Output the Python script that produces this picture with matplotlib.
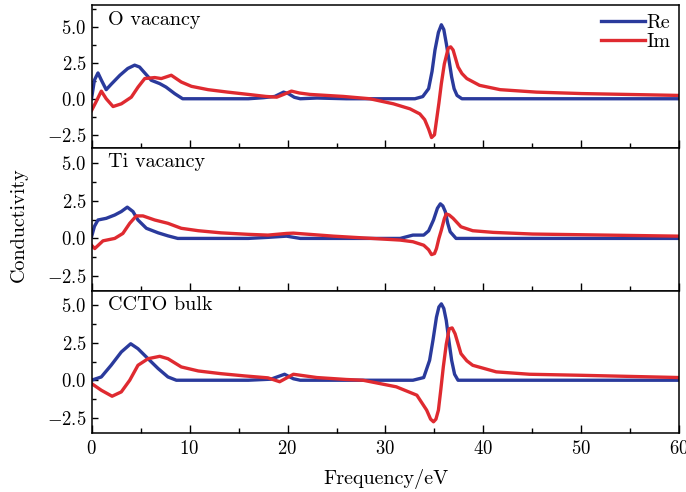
import numpy as np
import matplotlib
matplotlib.use('Agg')
import matplotlib.pyplot as plt
from matplotlib.ticker import MultipleLocator, FuncFormatter

plt.rcParams['font.family'] = 'cmr10'
plt.rcParams['mathtext.fontset'] = 'cm'
plt.rcParams['axes.formatter.use_mathtext'] = True

# ---- data (eV, conductivity) ----
# O vacancy
o_re_x = [0, 0.3, 0.66, 1.0, 1.5, 2.0, 2.9, 3.7, 4.4, 4.9, 5.25, 6.1, 6.96, 7.6, 8.5, 9.3, 12, 16, 17.5, 18.7,
          19.6, 20.1, 20.7, 21.3, 23, 26, 30, 33.0, 33.8, 34.4, 34.75, 35.05, 35.4, 35.7, 35.95, 36.2, 36.5,
          36.75, 37.0, 37.3, 37.8, 45, 60]
o_re_y = [0.0, 1.3, 1.79, 1.3, 0.63, 1.0, 1.63, 2.1, 2.33, 2.2, 1.93, 1.28, 1.05, 0.81, 0.35, 0.0, 0.0, 0.0, 0.07, 0.16,
          0.46, 0.35, 0.1, 0.0, 0.05, 0.0, 0.0, 0.0, 0.15, 0.7, 1.9, 3.38, 4.6, 5.13, 4.8, 3.85, 2.6,
          1.51, 0.7, 0.23, 0.0, 0.0, 0.0]
o_im_x = [0, 0.4, 1.0, 1.5, 2.2, 3.05, 4.06, 4.75, 5.43, 6.45, 7.12, 8.14, 9.16, 10.2, 11.9, 13.9, 16, 17.8,
          18.9, 19.6, 20.4, 21.2, 22.3, 25.7, 28.4, 30.8, 32.5, 33.5, 34.0, 34.4, 34.7, 35.0, 35.2, 35.45, 35.7,
          36.0, 36.4, 36.65, 36.9, 37.4, 37.8, 38.3, 39.6, 41.7, 45.4, 50, 60]
o_im_y = [-0.82, -0.3, 0.53, 0.0, -0.54, -0.35, 0.11, 0.81, 1.4, 1.47, 1.4, 1.63, 1.16, 0.86, 0.63, 0.46, 0.3, 0.16,
          0.11, 0.3, 0.53, 0.4, 0.3, 0.16, 0.0, -0.35, -0.7, -1.05, -1.45, -2.1, -2.69, -2.5, -1.52, -0.3, 1.05,
          2.4, 3.5, 3.6, 3.38, 2.21, 1.75, 1.4, 0.93, 0.63, 0.46, 0.36, 0.23]

# Ti vacancy
ti_re_x = [0, 0.3, 0.66, 1.5, 2.37, 3.04, 3.65, 4.23, 4.74, 5.6, 6.8, 7.8, 8.8, 16, 18, 19.9, 21.3, 31.5, 32.8, 33.9,
           34.4, 34.9, 35.3, 35.6, 35.85, 36.1, 36.35, 36.6, 37.2, 45, 60]
ti_re_y = [0.1, 0.8, 1.22, 1.33, 1.55, 1.78, 2.07, 1.78, 1.22, 0.67, 0.37, 0.17, 0.0, 0.0, 0.07, 0.15, 0.0, 0.0, 0.22, 0.22,
           0.5, 1.22, 2.0, 2.29, 2.15, 1.78, 1.0, 0.44, 0.0, 0.0, 0.0]
ti_im_x = [0, 0.33, 1.17, 2.37, 3.2, 3.9, 4.57, 5.25, 6.45, 7.8, 9.16, 10.9, 13.2, 16, 18, 19.9, 20.6, 24.7,
           31.5, 32.8, 33.9, 34.4, 34.7, 35.0, 35.2, 35.45, 35.7, 36.0, 36.2, 36.5, 36.9, 37.7, 38.9, 41, 45, 60]
ti_im_y = [-0.45, -0.67, -0.16, 0.0, 0.33, 1.0, 1.49, 1.49, 1.22, 1.0, 0.67, 0.51, 0.37, 0.27, 0.22, 0.33, 0.35, 0.15,
           -0.11, -0.22, -0.45, -0.75, -1.07, -1.0, -0.67, 0.0, 0.55, 1.3, 1.62, 1.55, 1.33, 0.77, 0.51, 0.4, 0.29, 0.15]

# CCTO bulk
bk_re_x = [0, 1.0, 2.0, 3.04, 4.0, 4.74, 5.77, 6.8, 7.8, 8.66, 16, 18.3, 19.7, 20.6, 21.3, 32.8, 33.9, 34.5,
           34.85, 35.2, 35.45, 35.7, 35.95, 36.2, 36.5, 36.75, 37.05, 37.4, 45, 60]
bk_re_y = [0.0, 0.22, 1.0, 1.89, 2.44, 2.11, 1.44, 0.78, 0.22, 0.0, 0.0, 0.07, 0.4, 0.1, 0.0, 0.0, 0.18, 1.33,
           2.7, 4.22, 4.9, 5.11, 4.8, 4.0, 2.5, 1.33, 0.4, 0.0, 0.0, 0.0]
bk_im_x = [0, 1.0, 2.1, 3.04, 3.9, 4.74, 5.77, 6.96, 7.8, 9.16, 10.9, 13.2, 15.6, 18, 19.2, 20.6, 23, 26,
           27.7, 31.1, 33.2, 34.2, 34.6, 34.9, 35.15, 35.4, 35.65, 35.9, 36.2, 36.5, 36.8, 37.1, 37.7, 38.3, 38.9,
           41.3, 44.7, 50, 60]
bk_im_y = [-0.22, -0.67, -1.07, -0.78, 0.0, 1.0, 1.44, 1.6, 1.44, 0.89, 0.62, 0.44, 0.29, 0.16, -0.1, 0.4, 0.18, 0.05,
           0.0, -0.44, -1.0, -2.0, -2.6, -2.78, -2.6, -2.0, -0.6, 0.89, 2.4, 3.44, 3.5, 3.11, 1.78, 1.3, 1.0,
           0.56, 0.4, 0.33, 0.18]

panels = ['O vacancy', 'Ti vacancy', 'CCTO bulk']
re_data = [(o_re_x, o_re_y), (ti_re_x, ti_re_y), (bk_re_x, bk_re_y)]
im_data = [(o_im_x, o_im_y), (ti_im_x, ti_im_y), (bk_im_x, bk_im_y)]
ylims = [(-3.4, 6.5), (-3.45, 6.0), (-3.55, 6.0)]

blue = '#2a3a9c'
red = '#df2a30'

fig, axes = plt.subplots(3, 1, sharex=True, figsize=(6.86, 4.92), dpi=100)
fig.subplots_adjust(left=0.1334, right=0.9905, top=0.9898, bottom=0.1193, hspace=0)

fmt = FuncFormatter(lambda v, p: r'$%.1f$' % v if abs(v) > 1e-9 else r'$0.0$')

for i, ax in enumerate(axes):
    ax.plot(re_data[i][0], re_data[i][1], color=blue, lw=2.4, label='Re', solid_joinstyle='round')
    ax.plot(im_data[i][0], im_data[i][1], color=red, lw=2.4, label='Im', solid_joinstyle='round')
    ax.set_xlim(0, 60)
    ax.set_ylim(*ylims[i])
    ax.yaxis.set_major_locator(MultipleLocator(2.5))
    ax.yaxis.set_minor_locator(MultipleLocator(1.25))
    ax.xaxis.set_major_locator(MultipleLocator(10))
    ax.xaxis.set_minor_locator(MultipleLocator(5))
    ax.yaxis.set_major_formatter(fmt)
    ax.tick_params(which='both', direction='in', labelsize=13.5, width=1.0)
    ax.tick_params(which='major', axis='x', length=5.5, pad=5)
    ax.tick_params(which='minor', axis='x', length=3.5)
    ax.tick_params(which='major', axis='y', length=4)
    ax.tick_params(which='minor', axis='y', length=3)
    for s in ax.spines.values():
        s.set_linewidth(1.1)
    ax.text(0.028, 0.96, panels[i], transform=ax.transAxes, va='top', ha='left', fontsize=14.5)

axes[-1].xaxis.set_major_formatter(FuncFormatter(lambda v, p: r'$%d$' % v))
axes[0].legend(loc='upper right', frameon=False, fontsize=14.5, handlelength=2.2,
               borderaxespad=0.05, handletextpad=0.05, labelspacing=0.05)

fig.text(0.027, 0.543, 'Conductivity', rotation=90, va='center', ha='center', fontsize=14.5)
axes[-1].set_xlabel('Frequency/eV', fontsize=14.5, labelpad=8)

fig.savefig('out.png', dpi=100)
